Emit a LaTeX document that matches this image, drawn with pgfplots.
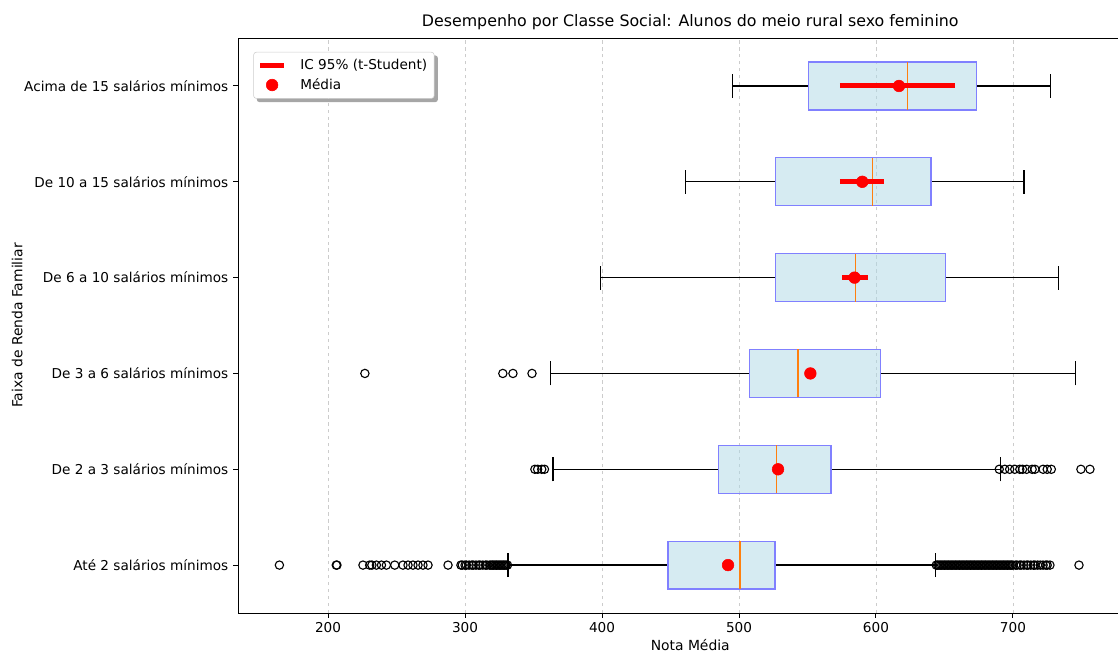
\documentclass[border=0pt]{standalone}
\usepackage{fontspec}
\setmainfont{DejaVu Sans}
\usepackage{pgfplots}
\pgfplotsset{compat=1.18}
\usepgfplotslibrary{statistics}
\pgfdeclarelayer{bg}
\pgfsetlayers{bg,main}
\definecolor{lightblue}{RGB}{173,216,230}
\definecolor{boxedge}{RGB}{128,128,255}
\definecolor{mplorange}{RGB}{255,127,14}
\begin{document}
\begin{tikzpicture}
\begin{axis}[
  scale only axis,
  width=642.2pt, height=414pt,
  xmin=134.3, xmax=785.4, ymin=0.5, ymax=6.5,
  xtick={200,300,400,500,600,700},
  ytick={1,2,3,4,5,6},
  yticklabels={Até 2 salários mínimos, De 2 a 3 salários mínimos, De 3 a 6 salários mínimos, De 6 a 10 salários mínimos, De 10 a 15 salários mínimos, Acima de 15 salários mínimos},
  tick pos=left, tick align=outside, major tick length=3.5pt,
  tick style={black, line width=0.7pt},
  axis line style={line width=0.7pt},
  xmajorgrids, grid style={gray!40, line width=0.6pt, dash pattern=on 2.5pt off 2.5pt},
  /pgf/number format/assume math mode=true,
  tick label style={font=\fontsize{9.8}{12}\selectfont},
  label style={font=\fontsize{9.8}{12}\selectfont},
  xlabel={Nota Média}, ylabel={Faixa de Renda Familiar},
  every axis x label/.style={at={(axis description cs:0.507,0)}, anchor=center, yshift=-23pt},
  every axis y label/.style={at={(axis description cs:-0.2476,0.5)}, anchor=center, rotate=90},
  title={Desempenho por Classe Social: Alunos do meio rural sexo feminino},
  every axis title/.style={at={(axis description cs:0.507,1)}, anchor=center, yshift=11.5pt, font=\fontsize{11.4}{14}\selectfont},
  boxplot/box extend=0.5,
  boxplot/whisker extend=0.25,
  boxplot/every box/.style={draw=boxedge, fill=lightblue, fill opacity=0.5, line width=0.9pt},
  boxplot/every median/.style={draw=mplorange, line width=0.9pt},
  boxplot/every whisker/.style={draw=black, line width=0.9pt},
  legend style={name=leg, at={(axis description cs:0,1)}, anchor=north west, xshift=11pt, yshift=-10pt,
    font=\fontsize{9.8}{12}\selectfont, draw=gray!40, rounded corners=2pt, fill=white,
    row sep=1pt, inner sep=3pt,
    /tikz/every odd column/.append style={column sep=8pt}},
  legend image code/.code={\draw[#1, mark repeat=2, mark phase=2] plot coordinates {(0cm,0cm) (0.3cm,0cm) (0.6cm,0cm)};},
  legend cell align=left,
]
\coordinate (SW) at (rel axis cs:0,0);
\coordinate (NW) at (rel axis cs:0,1);
% Até 2
\addplot[forget plot, mark=o, mark size=3pt, mark options={black, line width=0.8pt},
  boxplot prepared={draw position=1, lower whisker=331.4, lower quartile=448.2, median=500.7, upper quartile=526.3, upper whisker=643.3}]
  coordinates {(0,164.5) (0,206) (0,206.5) (0,225.5) (0,230.4) (0,232) (0,235.3) (0,239) (0,242.6) (0,248.7) (0,254.7) (0,258.4) (0,262) (0,265.7) (0,269.3) (0,273) (0,287.6)
  (0,297) (0,298) (0,300) (0,301) (0,303) (0,305) (0,306) (0,308) (0,310) (0,311) (0,313) (0,315) (0,316) (0,318) (0,319) (0,320) (0,321) (0,322) (0,323) (0,324) (0,325) (0,326) (0,327) (0,328) (0,329) (0,330) (0,331)
  (0,644) (0,645) (0,646) (0,647) (0,648) (0,649) (0,650) (0,651) (0,652) (0,653) (0,654) (0,655) (0,656) (0,657) (0,658) (0,659) (0,660) (0,661) (0,662) (0,663) (0,664) (0,665) (0,666) (0,667) (0,668) (0,669) (0,670) (0,671) (0,672) (0,673) (0,674) (0,675) (0,676) (0,677) (0,678) (0,679) (0,680) (0,681) (0,682) (0,683) (0,684) (0,685) (0,686) (0,687) (0,688) (0,689) (0,690) (0,691) (0,692) (0,693) (0,694) (0,695) (0,696) (0,697) (0,698) (0,699) (0,700)
  (0,702) (0,703) (0,705) (0,706) (0,708) (0,710) (0,711) (0,713) (0,715) (0,716) (0,718) (0,720) (0,722) (0,724) (0,725) (0,727) (0,748.2)};
% De 2 a 3
\addplot[forget plot, mark=o, mark size=3pt, mark options={black, line width=0.8pt},
  boxplot prepared={draw position=2, lower whisker=364.2, lower quartile=485.3, median=527.5, upper quartile=567.2, upper whisker=691}]
  coordinates {(0,351) (0,353) (0,356) (0,358) (0,690) (0,694) (0,697.6) (0,701.3) (0,705) (0,707) (0,710) (0,714) (0,716) (0,722) (0,725) (0,728) (0,749.6) (0,756.2)};
% De 3 a 6
\addplot[forget plot, mark=o, mark size=3pt, mark options={black, line width=0.8pt},
  boxplot prepared={draw position=3, lower whisker=362.5, lower quartile=507.9, median=543.1, upper quartile=603.3, upper whisker=745.8}]
  coordinates {(0,226.9) (0,327.6) (0,335) (0,348.9)};
% De 6 a 10
\addplot[forget plot, mark=o, mark size=3pt, mark options={black, line width=0.8pt},
  boxplot prepared={draw position=4, lower whisker=399, lower quartile=526.5, median=584.9, upper quartile=650.9, upper whisker=733.1}]
  coordinates {};
% De 10 a 15
\addplot[forget plot, mark=o, mark size=3pt, mark options={black, line width=0.8pt},
  boxplot prepared={draw position=5, lower whisker=460.8, lower quartile=526.5, median=597.3, upper quartile=640.1, upper whisker=708}]
  coordinates {};
% Acima de 15
\addplot[forget plot, mark=o, mark size=3pt, mark options={black, line width=0.8pt},
  boxplot prepared={draw position=6, lower whisker=495.1, lower quartile=550.9, median=622.9, upper quartile=673.5, upper whisker=727.2}]
  coordinates {};
% IC 95%
\addplot[red, line width=3.6pt, no marks] coordinates {(573.7,6) (657.9,6)};
\addlegendentry{IC 95\% (t-Student)}
\addplot[red, line width=3.6pt, no marks, forget plot] coordinates {(573.7,5) (605.6,5)};
\addplot[red, line width=3.6pt, no marks, forget plot] coordinates {(575.4,4) (594.2,4)};
\addplot[red, line width=3.6pt, no marks, forget plot] coordinates {(549.5,3) (554.7,3)};
\addplot[red, line width=3.6pt, no marks, forget plot] coordinates {(526.5,2) (530.5,2)};
\addplot[red, line width=3.6pt, no marks, forget plot] coordinates {(491,1) (493,1)};
% Média
\addplot[only marks, mark=*, mark size=4.2pt, red, mark options={draw=red, fill=red}]
  coordinates {(616.8,6) (590,5) (584.4,4) (552.1,3) (528.5,2) (492,1)};
\addlegendentry{Média}
\end{axis}
\begin{pgfonlayer}{bg}
\fill[gray!70, rounded corners=2pt] ([shift={(2.5pt,-2.5pt)}]leg.south west) rectangle ([shift={(2.5pt,-2.5pt)}]leg.north east);
\end{pgfonlayer}
\pgfresetboundingbox
\useasboundingbox ([xshift=-171.4pt, yshift=-28.8pt]SW) rectangle ([xshift=633.6pt, yshift=27.4pt]NW);
\end{tikzpicture}
\end{document}
